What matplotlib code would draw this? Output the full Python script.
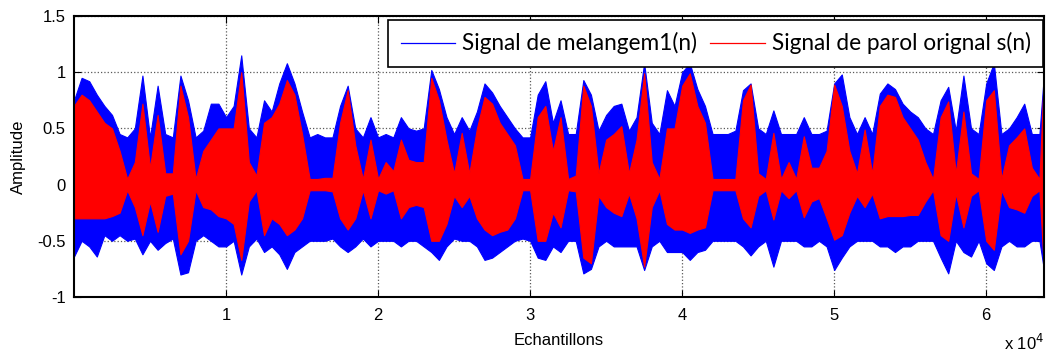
import numpy as np
import matplotlib
matplotlib.use('Agg')
import matplotlib.pyplot as plt
from matplotlib.lines import Line2D

# sample index of each envelope reading (every 500 samples, last one at the right edge)
n = list(range(0, 64000, 500)) + [63800]

# envelopes (upper / lower amplitude around each sample index)
red_hi = [0.70, 0.80, 0.75, 0.65, 0.55, 0.50, 0.30, 0.05, 0.20, 0.72,
          0.15, 0.62, 0.10, 0.10, 0.88, 0.60, 0.05, 0.30, 0.40, 0.50,
          0.50, 0.50, 1.00, 0.20, 0.08, 0.55, 0.60, 0.72, 0.93, 0.80,
          0.45, 0.05, 0.05, 0.06, 0.06, 0.55, 0.84, 0.35, 0.05, 0.40,
          0.05, 0.20, 0.12, 0.40, 0.22, 0.20, 0.20, 0.95, 0.75, 0.40,
          0.10, 0.46, 0.10, 0.50, 0.78, 0.72, 0.55, 0.45, 0.35, 0.05,
          0.05, 0.60, 0.70, 0.30, 0.60, 0.05, 0.08, 0.88, 0.70, 0.10,
          0.40, 0.45, 0.52, 0.10, 0.40, 0.99, 0.20, 0.05, 0.50, 0.50,
          0.88, 0.99, 0.70, 0.55, 0.05, 0.05, 0.05, 0.05, 0.75, 0.89,
          0.10, 0.05, 0.46, 0.05, 0.20, 0.05, 0.43, 0.15, 0.15, 0.30,
          0.89, 0.70, 0.30, 0.10, 0.49, 0.10, 0.70, 0.80, 0.78, 0.60,
          0.50, 0.40, 0.20, 0.05, 0.60, 0.74, 0.10, 0.65, 0.10, 0.05,
          0.75, 0.84, 0.05, 0.35, 0.42, 0.50, 0.15, 0.05, 0.99]
red_lo = [-0.30, -0.30, -0.30, -0.30, -0.30, -0.28, -0.25, -0.05, -0.20, -0.45,
          -0.15, -0.42, -0.10, -0.08, -0.62, -0.50, -0.05, -0.20, -0.22, -0.28,
          -0.30, -0.35, -0.67, -0.15, -0.05, -0.45, -0.30, -0.35, -0.45, -0.40,
          -0.30, -0.05, -0.05, -0.05, -0.06, -0.30, -0.40, -0.30, -0.05, -0.30,
          -0.05, -0.08, -0.05, -0.30, -0.20, -0.18, -0.20, -0.50, -0.50, -0.35,
          -0.10, -0.20, -0.10, -0.30, -0.40, -0.45, -0.42, -0.40, -0.30, -0.05,
          -0.05, -0.50, -0.50, -0.25, -0.38, -0.05, -0.06, -0.65, -0.70, -0.10,
          -0.20, -0.25, -0.28, -0.08, -0.30, -0.73, -0.20, -0.05, -0.35, -0.40,
          -0.40, -0.43, -0.40, -0.38, -0.05, -0.05, -0.05, -0.05, -0.30, -0.38,
          -0.10, -0.05, -0.31, -0.05, -0.12, -0.05, -0.29, -0.15, -0.12, -0.30,
          -0.49, -0.45, -0.25, -0.10, -0.20, -0.08, -0.30, -0.28, -0.28, -0.28,
          -0.27, -0.27, -0.15, -0.05, -0.45, -0.50, -0.08, -0.38, -0.10, -0.05,
          -0.50, -0.58, -0.05, -0.20, -0.22, -0.25, -0.10, -0.05, -0.76]
blue_hi = [0.75, 0.95, 0.92, 0.80, 0.70, 0.62, 0.45, 0.42, 0.50, 0.97,
           0.42, 0.88, 0.45, 0.42, 0.97, 0.75, 0.42, 0.48, 0.72, 0.72,
           0.60, 0.70, 1.15, 0.50, 0.42, 0.75, 0.65, 0.90, 1.08, 0.90,
           0.65, 0.42, 0.45, 0.42, 0.42, 0.70, 0.88, 0.50, 0.42, 0.60,
           0.42, 0.45, 0.42, 0.60, 0.50, 0.48, 0.50, 1.02, 0.85, 0.60,
           0.45, 0.60, 0.48, 0.65, 0.90, 0.82, 0.70, 0.60, 0.50, 0.42,
           0.42, 0.80, 0.92, 0.55, 0.75, 0.45, 0.45, 0.93, 0.80, 0.48,
           0.62, 0.70, 0.72, 0.48, 0.60, 1.08, 0.55, 0.45, 0.84, 0.70,
           1.00, 1.08, 0.85, 0.70, 0.45, 0.45, 0.45, 0.48, 0.84, 0.90,
           0.50, 0.45, 0.66, 0.45, 0.45, 0.45, 0.60, 0.45, 0.45, 0.48,
           0.90, 0.98, 0.60, 0.45, 0.60, 0.45, 0.81, 0.90, 0.85, 0.72,
           0.65, 0.60, 0.50, 0.45, 0.75, 0.87, 0.48, 0.97, 0.50, 0.45,
           0.90, 1.08, 0.45, 0.50, 0.60, 0.72, 0.45, 0.45, 0.99]
blue_lo = [-0.64, -0.50, -0.55, -0.64, -0.45, -0.50, -0.45, -0.50, -0.48, -0.62,
           -0.50, -0.58, -0.52, -0.48, -0.80, -0.78, -0.50, -0.45, -0.50, -0.55,
           -0.55, -0.50, -0.80, -0.55, -0.48, -0.60, -0.55, -0.62, -0.75, -0.60,
           -0.55, -0.50, -0.50, -0.50, -0.48, -0.55, -0.60, -0.55, -0.48, -0.55,
           -0.50, -0.50, -0.50, -0.55, -0.50, -0.50, -0.55, -0.60, -0.67, -0.55,
           -0.48, -0.50, -0.50, -0.55, -0.67, -0.65, -0.60, -0.55, -0.50, -0.48,
           -0.50, -0.65, -0.67, -0.55, -0.60, -0.50, -0.50, -0.79, -0.75, -0.55,
           -0.50, -0.55, -0.55, -0.55, -0.55, -0.76, -0.55, -0.50, -0.60, -0.60,
           -0.60, -0.67, -0.60, -0.58, -0.50, -0.50, -0.50, -0.50, -0.55, -0.63,
           -0.55, -0.50, -0.73, -0.50, -0.50, -0.50, -0.55, -0.55, -0.50, -0.55,
           -0.76, -0.65, -0.55, -0.50, -0.50, -0.50, -0.55, -0.55, -0.60, -0.55,
           -0.55, -0.50, -0.50, -0.50, -0.65, -0.79, -0.50, -0.60, -0.64, -0.50,
           -0.70, -0.76, -0.55, -0.50, -0.55, -0.55, -0.50, -0.50, -0.76]

x_ticks = [10000, 20000, 30000, 40000, 50000, 60000]
x_tick_labels = ['1', '2', '3', '4', '5', '6']
y_ticks = [-1, -0.5, 0, 0.5, 1, 1.5]
y_tick_labels = ['-1', '-0.5', '0', '0.5', '1', '1.5']

plt.rcParams['font.family'] = ['Liberation Sans', 'DejaVu Sans']

fig = plt.figure(figsize=(10.47, 3.56), dpi=100)
ax = fig.add_axes([74 / 1047, 59 / 356, 970 / 1047, 281 / 356])

ax.fill_between(n, blue_lo, blue_hi, color='#0000ff', lw=0.8, edgecolor='#0000ff')
ax.fill_between(n, red_lo, red_hi, color='#ff0000', lw=0.8, edgecolor='#ff0000')

ax.set_xlim(0, 63800)
ax.set_ylim(-1, 1.5)
ax.set_xticks(x_ticks)
ax.set_xticklabels(x_tick_labels)
ax.set_yticks(y_ticks)
ax.set_yticklabels(y_tick_labels)
ax.tick_params(direction='in', length=5, width=0.8, labelsize=12, top=True, right=True)
ax.tick_params(axis='x', pad=8)
ax.tick_params(axis='y', pad=6)
ax.grid(True, linestyle=':', color='0.35', linewidth=0.9)
ax.set_axisbelow(True)
for s in ax.spines.values():
    s.set_linewidth(1.5)

ax.set_xlabel('Echantillons', fontsize=12, labelpad=7)
ax.set_ylabel('Amplitude', fontsize=12, labelpad=8)
ax.text(1.0, -0.19, r'x 10$^{4}$', transform=ax.transAxes, ha='right', va='baseline', fontsize=12)

handles = [Line2D([], [], color='#0000ff', lw=0.9), Line2D([], [], color='#ff0000', lw=0.9)]
leg = ax.legend(handles, ['Signal de melangem1(n)', 'Signal de parol orignal s(n)'],
                loc='upper right', bbox_to_anchor=(0.999, 0.986), borderaxespad=0, ncol=2,
                prop={'family': 'Lato', 'size': 16.3}, frameon=True, fancybox=False,
                framealpha=1, edgecolor='black', handlelength=2.4, handletextpad=0.3,
                columnspacing=0.6, borderpad=0.55)
leg.get_frame().set_linewidth(1.2)

fig.savefig('out.png', dpi=100)
